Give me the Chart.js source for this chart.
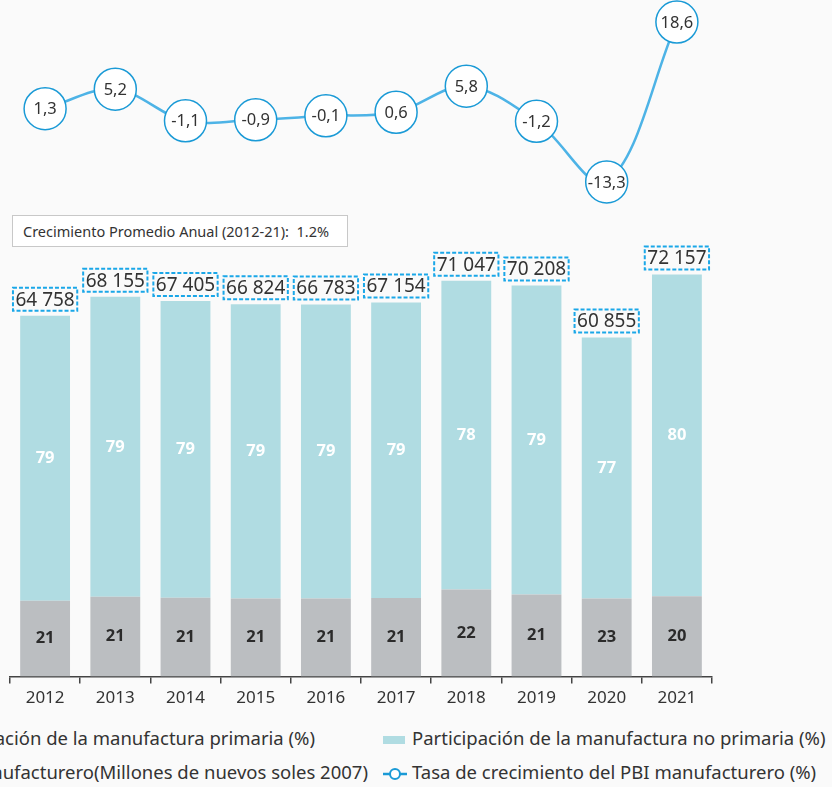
<!DOCTYPE html>
<html>
<head>
<meta charset="utf-8">
<script src="https://cdn.jsdelivr.net/npm/chart.js@4.4.1/dist/chart.umd.min.js"></script>
<style>
  body { margin: 0; background: #fafafa; font-family: "Noto Sans", sans-serif; color: #333; }
  #wrap { position: relative; width: 832px; height: 787px; overflow: hidden; }
  #chartBox { position: absolute; left: 0; top: 0; width: 832px; height: 714px; }
  .note { position: absolute; left: 12px; top: 215px; width: 324px; height: 30px; background: #fff;
          border: 1.5px solid #c8c8c8; font-size: 14.5px; line-height: 30px; padding-left: 10px; box-sizing: content-box; }
  .leg { position: absolute; white-space: nowrap; font-size: 18.5px; line-height: 22px; }
  .sw { display: inline-block; vertical-align: middle; margin-right: 7px; }
</style>
</head>
<body>
<div id="wrap">
  <div id="chartBox"><canvas id="myChart" width="832" height="714"></canvas></div>
  <div class="note">Crecimiento Promedio Anual (2012-21):&nbsp; 1.2%</div>

  <div class="leg" style="right:517px; top:727px;"><span class="sw" style="width:22px;height:8px;background:#bbbec1"></span>Participación de la manufactura primaria (%)</div>
  <div class="leg" style="right:464px; top:761px;"><span class="sw" style="width:22px;height:10px;border:1.5px dashed #1aa7e8"></span>PBI manufacturero(Millones de nuevos soles 2007)</div>
  <div class="leg" style="left:383px; top:727px;"><span class="sw" style="width:22px;height:8px;background:#b0dce2"></span>Participación de la manufactura no primaria (%)</div>
  <div class="leg" style="left:383px; top:761px;"><svg class="sw" width="24" height="14" style="margin-right:5px"><line x1="0" y1="7" x2="24" y2="7" stroke="#1a9ad6" stroke-width="2.5"/><circle cx="12" cy="7" r="5" fill="#fff" stroke="#1a9ad6" stroke-width="2"/></svg>Tasa de crecimiento del PBI manufacturero (%)</div>
</div>

<script>
'use strict';

let years = ['2012', '2013', '2014', '2015', '2016', '2017', '2018', '2019', '2020', '2021'];
let pbiTotal = [64758, 68155, 67405, 66824, 66783, 67154, 71047, 70208, 60855, 72157];
let sharePrimaria = [21, 21, 21, 21, 21, 21, 22, 21, 23, 20];
let shareNoPrimaria = [79, 79, 79, 79, 79, 79, 78, 79, 77, 80];
let growthRate = [1.3, 5.2, -1.1, -0.9, -0.1, 0.6, 5.8, -1.2, -13.3, 18.6];

let fontFam = '"Noto Sans", sans-serif';

// bar segments = total split by the shares
let primariaVals = [];
let noPrimariaVals = [];
for (let i = 0; i < years.length; i++) {
    primariaVals.push(pbiTotal[i] * sharePrimaria[i] / 100);
    noPrimariaVals.push(pbiTotal[i] * shareNoPrimaria[i] / 100);
}

function fmtThousands(n){
    return String(n).replace(/\B(?=(\d{3})+(?!\d))/g, ' ');
}
function fmtRate(v){
    return v.toFixed(1).replace('.', ',');
}

let labelPlugin = {
    id: 'labelPlugin',
    afterDatasetsDraw(chart){
        let ctx = chart.ctx;
        let metaPrim = chart.getDatasetMeta(0);
        let metaNo = chart.getDatasetMeta(1);
        let metaLine = chart.getDatasetMeta(2);
        ctx.save();
        ctx.textAlign = 'center';
        ctx.textBaseline = 'middle';

        metaPrim.data.forEach(function(bar, i){
            ctx.font = 'bold 16.5px ' + fontFam;
            ctx.fillStyle = '#2b2b2b';
            ctx.fillText(sharePrimaria[i], bar.x, (bar.y + bar.base) / 2);
        });

        metaNo.data.forEach(function(bar, i){
            ctx.font = 'bold 16.5px ' + fontFam;
            ctx.fillStyle = '#ffffff';
            ctx.fillText(shareNoPrimaria[i], bar.x, (bar.y + bar.base) / 2);

            // total in dashed box
            let txt = fmtThousands(pbiTotal[i]);
            ctx.font = '19px ' + fontFam;
            let w = ctx.measureText(txt).width + 5;
            let h = 23;
            let bx = bar.x - w / 2;
            let by = bar.y - 5 - h;
            ctx.setLineDash([4, 2]);
            ctx.strokeStyle = '#1aa7e8';
            ctx.lineWidth = 2;
            ctx.strokeRect(bx, by, w, h);
            ctx.setLineDash([]);
            ctx.fillStyle = '#333';
            ctx.fillText(txt, bar.x, by + h / 2 + 1);
        });

        metaLine.data.forEach(function(pt, i){
            ctx.font = '16.5px ' + fontFam;
            ctx.fillStyle = '#333';
            ctx.fillText(fmtRate(growthRate[i]), pt.x, pt.y + 1);
        });
        ctx.restore();
    }
};

let ctx = document.getElementById('myChart').getContext('2d');
let chart = new Chart(ctx, {
    type: 'bar',
    data: {
        labels: years,
        datasets: [{
            label: 'Participación de la manufactura primaria (%)',
            data: primariaVals,
            backgroundColor: '#bbbec1',
            yAxisID: 'y',
            order: 1,
            barPercentage: 0.71,
            categoryPercentage: 1
        }, {
            label: 'Participación de la manufactura no primaria (%)',
            data: noPrimariaVals,
            backgroundColor: '#b0dce2',
            yAxisID: 'y',
            order: 1,
            barPercentage: 0.71,
            categoryPercentage: 1
        }, {
            type: 'line',
            label: 'Tasa de crecimiento del PBI manufacturero (%)',
            data: growthRate,
            yAxisID: 'y2',
            order: 0,
            borderColor: '#4db3e6',
            borderWidth: 2.5,
            tension: 0.35,
            pointRadius: 21,
            pointBackgroundColor: '#ffffff',
            pointBorderColor: '#1a9ad6',
            pointBorderWidth: 1.5,
            clip: false
        }]
    },
    options: {
        responsive: false,
        animation: false,
        devicePixelRatio: 1,
        layout: { autoPadding: false, padding: { left: 10, right: 120, top: 8, bottom: 2 } },
        plugins: {
            legend: { display: false },
            tooltip: { enabled: false }
        },
        scales: {
            x: {
                stacked: true,
                offset: true,
                grid: { offset: true, display: true, drawOnChartArea: false, drawTicks: true, tickLength: 7, color: '#444', lineWidth: 1.5 },
                border: { display: true, color: '#444', width: 1.5 },
                ticks: { color: '#333', font: { size: 17, family: fontFam }, padding: 4 }
            },
            y: {
                stacked: true,
                display: false,
                min: 0,
                max: 120000
            },
            y2: {
                display: false,
                min: -112,
                max: 21.4
            }
        }
    },
    plugins: [labelPlugin]
});
</script>
</body>
</html>
